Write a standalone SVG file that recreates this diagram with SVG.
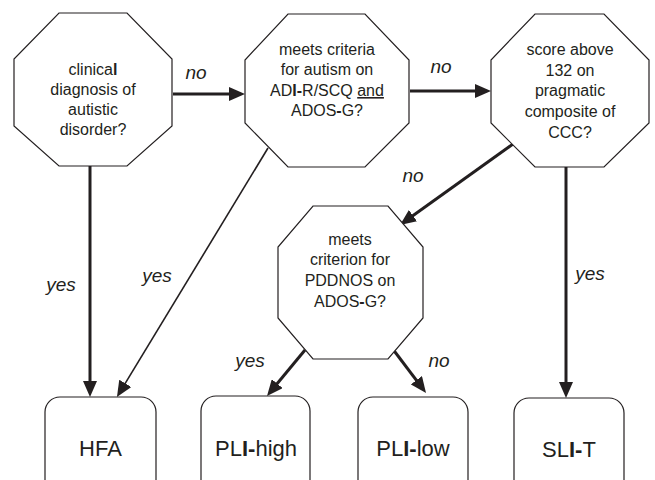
<svg xmlns="http://www.w3.org/2000/svg" width="655" height="480" viewBox="0 0 655 480">
<style>
.oct{fill:#fff;stroke:#231f20;stroke-width:1.2}
.box{fill:#fff;stroke:#231f20;stroke-width:1.2}
.t{font-family:"Liberation Sans",Arial,sans-serif;font-size:16px;fill:#231f20;text-anchor:middle}
.bt{font-family:"Liberation Sans",Arial,sans-serif;font-size:22px;fill:#231f20;text-anchor:middle}
.lbl{font-family:"Liberation Sans",Arial,sans-serif;font-size:19px;font-style:italic;fill:#231f20;text-anchor:middle}
.b{font-weight:bold}
.thick{stroke:#231f20;stroke-width:3;fill:none;marker-end:url(#ah)}
.thin{stroke:#231f20;stroke-width:1.6;fill:none;marker-end:url(#ah)}
</style>
<defs>
<marker id="ah" markerUnits="userSpaceOnUse" markerWidth="16" markerHeight="14" viewBox="0 0 16 14" refX="8" refY="7" orient="auto">
<path d="M0,0 L16,7 L0,14 z" fill="#231f20"/>
</marker>
</defs>
<rect width="655" height="480" fill="#fff"/>

<g id="connectors">
<line class="thick" x1="173" y1="94" x2="237" y2="94"/>
<line class="thick" x1="410" y1="91" x2="483" y2="91"/>
<line class="thick" x1="90" y1="166" x2="90" y2="389"/>
<line class="thin" x1="268" y1="148" x2="121.1" y2="390.2"/>
<line class="thick" x1="513" y1="144" x2="406.5" y2="220.3"/>
<line class="thick" x1="566" y1="167" x2="566" y2="390"/>
<line class="thick" x1="305" y1="350" x2="272.1" y2="389.8"/>
<line class="thick" x1="392" y1="348" x2="421.2" y2="386.6"/>
<text class="lbl" x="196" y="79">no</text>
<text class="lbl" x="441" y="73">no</text>
<text class="lbl" x="61" y="291">yes</text>
<text class="lbl" x="157" y="282">yes</text>
<text class="lbl" x="413" y="182">no</text>
<text class="lbl" x="590" y="280">yes</text>
<text class="lbl" x="250" y="367">yes</text>
<text class="lbl" x="439" y="367">no</text>
</g>

<g id="q1">
<polygon class="oct" points="59,13 127,13 172,59 172,126 127,166 59,166 14,126 14,59"/>
<text class="t" x="93" y="75">clinica<tspan class="b">l</tspan></text>
<text class="t" x="93" y="95">diagnosis of</text>
<text class="t" x="93" y="115">autistic</text>
<text class="t" x="93" y="135">disorder?</text>
</g>

<g id="q2">
<polygon class="oct" points="288,14 365,14 409,60 409,123 365,167 288,167 245,123 245,60"/>
<text class="t" x="327" y="55">meets criteria</text>
<text class="t" x="327" y="75">for autism on</text>
<text class="t" x="327" y="96">AD<tspan class="b">I-</tspan>R/SCQ <tspan text-decoration="underline">and</tspan></text>
<text class="t" x="327" y="116">ADOS<tspan class="b">-</tspan>G?</text>
</g>

<g id="q3">
<polygon class="oct" points="535,14 604,14 649,60 649,123 604,167 535,167 491,123 491,60"/>
<text class="t" x="570" y="55">score above</text>
<text class="t" x="570" y="76">132 on</text>
<text class="t" x="570" y="96">pragmatic</text>
<text class="t" x="570" y="117">composite of</text>
<text class="t" x="570" y="138">CCC?</text>
</g>

<g id="q4">
<polygon class="oct" points="313,206 388,206 423,247 423,318 388,359 313,359 278,318 278,247"/>
<text class="t" x="350" y="245">meets</text>
<text class="t" x="350" y="265">criterion for</text>
<text class="t" x="350" y="286">PDDNOS on</text>
<text class="t" x="350" y="307">ADOS<tspan class="b">-</tspan>G?</text>
</g>

<g id="hfa">
<rect class="box" x="45" y="397" width="111" height="110" rx="15"/>
<text class="bt" x="100.5" y="456">HFA</text>
</g>
<g id="pli-high">
<rect class="box" x="201" y="396" width="109" height="110" rx="15"/>
<text class="bt" x="256" y="456">PL<tspan class="b">I-</tspan>high</text>
</g>
<g id="pli-low">
<rect class="box" x="358" y="397" width="110" height="110" rx="15"/>
<text class="bt" x="413" y="456">PL<tspan class="b">I-</tspan>low</text>
</g>
<g id="sli-t">
<rect class="box" x="514" y="398" width="110" height="110" rx="15"/>
<text class="bt" x="569" y="457">SL<tspan class="b">I-</tspan>T</text>
</g>
</svg>
